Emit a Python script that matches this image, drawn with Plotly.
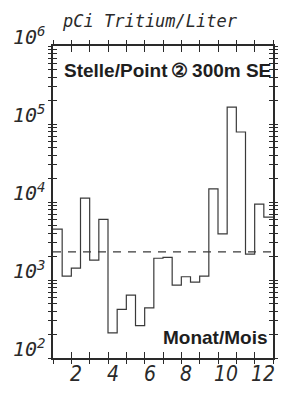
import plotly.graph_objects as go

# --- data (semi-monthly tritium concentration, pCi/L) ---
periods = [1.0, 1.5, 2.0, 2.5, 3.0, 3.5, 4.0, 4.5, 5.0, 5.5, 6.0, 6.5,
           7.0, 7.5, 8.0, 8.5, 9.0, 9.5, 10.0, 10.5, 11.0, 11.5, 12.0, 12.5]
period_end = 13.0
tritium = [4500, 1120, 1420, 11200, 1800, 6000, 210, 420, 640, 260, 440, 1900,
           1950, 860, 1100, 940, 1120, 14700, 3900, 165000, 79000, 2150, 9400, 6400]
mean_level = 2300

month_ticks = [1, 2, 3, 4, 5, 6, 7, 8, 9, 10, 11, 12, 13]
month_label_pos = [2, 4, 6, 8, 10, 12]
month_labels = ["2", "4", "6", "8", "10", "12"]
decade_exps = [2, 3, 4, 5, 6]
decade_labels = ["10<sup>2</sup>", "10<sup>3</sup>", "10<sup>4</sup>",
                 "10<sup>5</sup>", "10<sup>6</sup>"]

title_text = "pCi Tritium/Liter"
station_text = "Stelle/Point\u2009②\u2009300m SE"
xlabel_text = "Monat/Mois"

log_ticks = [k * 10 ** n for n in range(2, 6) for k in range(1, 10)] + [10 ** 6]

INK = "#2a2a2a"
PLOTTER_FONT = "DejaVu Sans Mono"
NARROW_FONT = "Liberation Sans Narrow, DejaVu Sans Condensed, sans-serif"

fig = go.Figure()

# step histogram
fig.add_trace(go.Scatter(
    x=periods + [period_end], y=tritium + [tritium[-1]],
    mode="lines", line=dict(shape="hv", color="#3a3a3a", width=1.2),
    hoverinfo="skip", showlegend=False))

# dashed reference level
fig.add_trace(go.Scatter(
    x=[month_ticks[0], month_ticks[-1]], y=[mean_level, mean_level],
    mode="lines", line=dict(color="#3a3a3a", width=1.2, dash="8px,7px"),
    hoverinfo="skip", showlegend=False))

# invisible trace on overlay axes (for crossing ticks)
fig.add_trace(go.Scatter(x=[month_ticks[0]], y=[mean_level], xaxis="x2", yaxis="y2",
                         mode="markers", marker=dict(opacity=0),
                         hoverinfo="skip", showlegend=False))

axis_common = dict(showgrid=False, zeroline=False, showticklabels=False,
                   tickcolor=INK, tickwidth=1.2)

fig.update_layout(
    width=281, height=396,
    margin=dict(l=53, r=3, t=46, b=38),
    paper_bgcolor="white", plot_bgcolor="white",
    xaxis=dict(range=[month_ticks[0], month_ticks[-1]], tickvals=month_ticks,
               ticks="outside", ticklen=4, mirror="ticks",
               showline=True, linecolor=INK, linewidth=1.6, **axis_common),
    yaxis=dict(type="log", range=[2, 6], tickvals=log_ticks,
               ticks="outside", ticklen=3, mirror="ticks",
               showline=True, linecolor=INK, linewidth=1.6, **axis_common),
    xaxis2=dict(range=[month_ticks[0], month_ticks[-1]], tickvals=month_ticks,
                overlaying="x", ticks="inside", ticklen=6, mirror="ticks",
                showline=False, **axis_common),
    yaxis2=dict(type="log", range=[2, 6], tickvals=log_ticks,
                overlaying="y", ticks="inside", ticklen=4, mirror="ticks",
                showline=False, **axis_common),
)

annotations = []
# y decade labels
for e, lab in zip(decade_exps, decade_labels):
    annotations.append(dict(
        text=lab, x=0, xref="paper", y=e, yref="y",
        xanchor="right", yanchor="bottom", xshift=-5, yshift=-5,
        showarrow=False,
        font=dict(family=PLOTTER_FONT, size=20, color=INK, style="italic")))
# x month labels
for p, lab in zip(month_label_pos, month_labels):
    annotations.append(dict(
        text=lab, x=p, xref="x", y=0, yref="paper",
        xanchor="center", yanchor="top", yshift=-2,
        xshift=5 if len(lab) == 1 else 8,
        showarrow=False,
        font=dict(family=NARROW_FONT, size=21, color=INK, style="italic")))
# unit title
annotations.append(dict(
    text=title_text, x=0, xref="paper", y=1, yref="paper",
    xanchor="left", yanchor="bottom", xshift=7, yshift=13,
    showarrow=False,
    font=dict(family=PLOTTER_FONT, size=17, color=INK, style="italic")))
# station
annotations.append(dict(
    text=station_text, x=0.522, xref="paper", y=0.9217, yref="paper",
    xanchor="center", yanchor="middle", showarrow=False,
    font=dict(family="Liberation Sans, Arial, sans-serif", size=19,
              color="#1e1e1e", weight="bold")))
# month axis label
annotations.append(dict(
    text=xlabel_text, x=0.987, xref="paper", y=0.0655, yref="paper",
    xanchor="right", yanchor="middle", showarrow=False,
    font=dict(family="Liberation Sans, Arial, sans-serif", size=19,
              color="#1e1e1e", weight="bold")))

fig.update_layout(annotations=annotations)

fig.write_html("out.html",
               config={"displayModeBar": False},
               post_script="document.body.style.margin='0';"
                           "document.body.style.padding='0';")
